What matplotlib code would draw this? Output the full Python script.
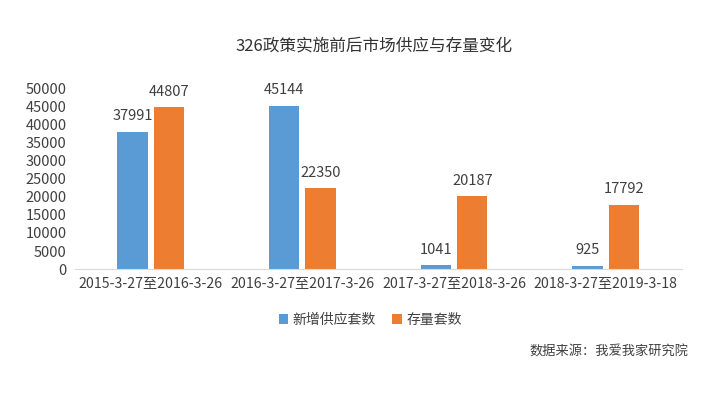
import matplotlib
matplotlib.use("Agg")
import matplotlib.pyplot as plt
import numpy as np

plt.rcParams["font.family"] = ["Noto Sans CJK SC", "DejaVu Sans"]

periods = ["2015-3-27至2016-3-26", "2016-3-27至2017-3-26",
           "2017-3-27至2018-3-26", "2018-3-27至2019-3-18"]
new_supply = [37991, 45144, 1041, 925]
inventory = [44807, 22350, 20187, 17792]
yticks = list(range(0, 50001, 5000))

BLUE = "#5B9BD5"
ORANGE = "#ED7D31"
TEXT = "#404040"

fig = plt.figure(figsize=(7.05, 3.97), dpi=100)
ax = fig.add_axes([0.106, 0.322, 0.861, 0.456])

x = np.arange(len(periods))
w = 0.2
b1 = ax.bar(x - 0.12, new_supply, w, color=BLUE, label="新增供应套数")
b2 = ax.bar(x + 0.12, inventory, w, color=ORANGE, label="存量套数")
for bars in (b1, b2):
    for rect in bars:
        ax.annotate(f"{int(rect.get_height())}",
                    (rect.get_x() + rect.get_width() / 2, rect.get_height()),
                    xytext=(0, 6), textcoords="offset points",
                    ha="center", va="bottom", fontsize=10.5, color=TEXT)

ax.set_xlim(-0.5, len(periods) - 0.5)
ax.set_ylim(0, 50000)
ax.set_yticks(yticks)
ax.set_yticklabels([str(v) for v in yticks], fontsize=10.5, color=TEXT)
ax.set_xticks(x)
ax.set_xticklabels(periods, fontsize=10.2, color=TEXT)
ax.tick_params(length=0, pad=6)
for side in ("top", "right", "left"):
    ax.spines[side].set_visible(False)
ax.spines["bottom"].set_color("#D9D9D9")

fig.text(0.53, 0.885, "326政策实施前后市场供应与存量变化", ha="center", va="center",
         fontsize=12, color="#333333")
fig.legend(loc="center", bbox_to_anchor=(0.525, 0.195), ncol=2, frameon=False,
           fontsize=10, handlelength=0.7, handleheight=0.7, handletextpad=0.3,
           columnspacing=1.2, labelcolor=TEXT)
fig.text(0.976, 0.113, "数据来源：我爱我家研究院", ha="right", va="center",
         fontsize=9.5, color=TEXT)

fig.savefig("out.png", dpi=100)
